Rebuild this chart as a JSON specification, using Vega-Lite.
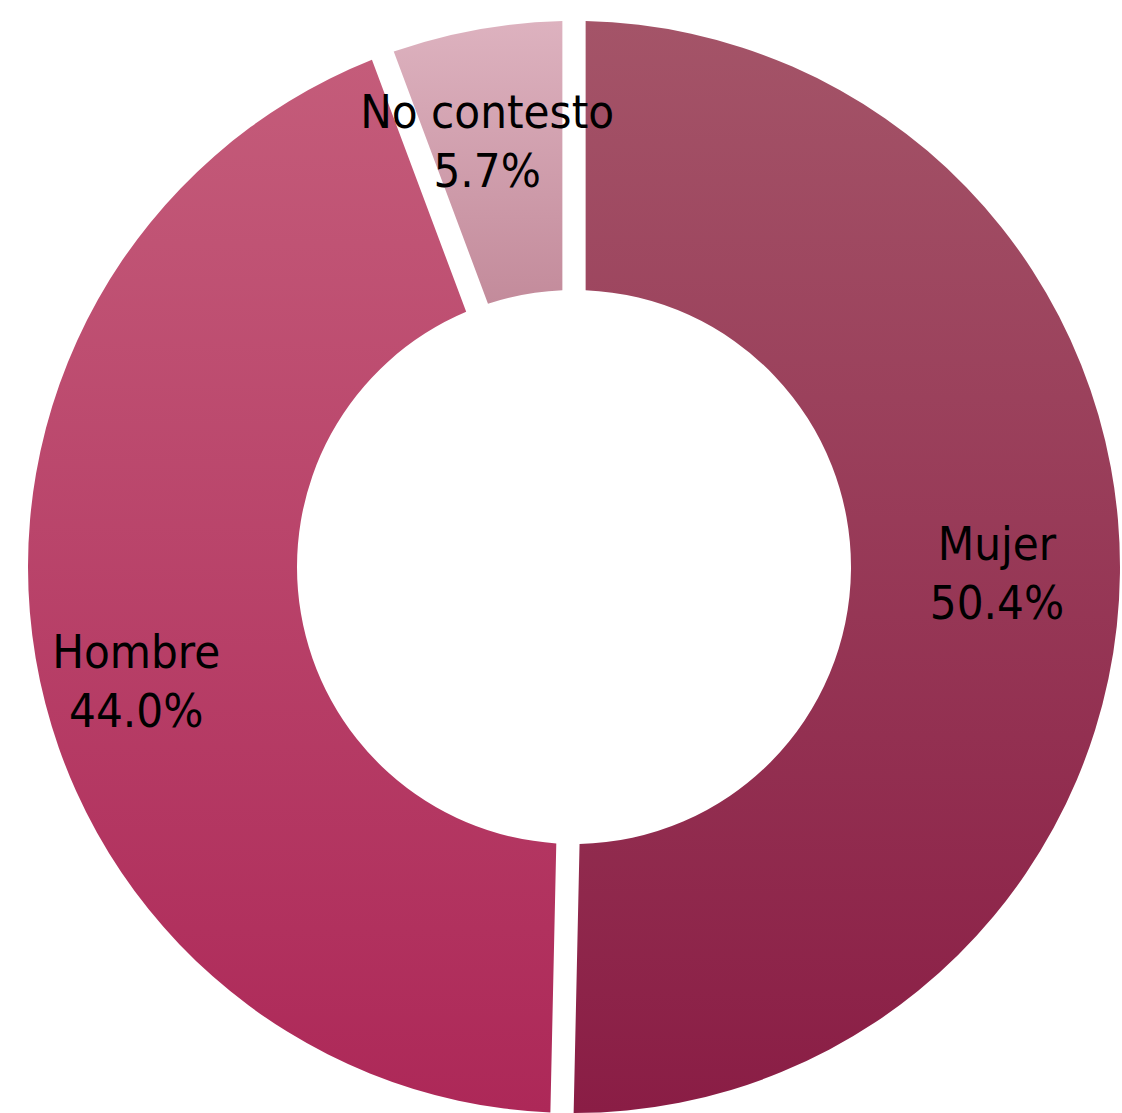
{
  "$schema": "https://vega.github.io/schema/vega-lite/v6.json",
  "width": 1122,
  "height": 1113,
  "autosize": {"type": "fit", "contains": "padding"},
  "padding": {"left": 26, "top": 21, "right": 0, "bottom": 0},
  "background": "white",
  "config": {"view": {"stroke": null}},
  "data": {
    "values": [
      {"cat": "Mujer", "value": 50.4, "ord": 1, "label": "Mujer\n50.4%"},
      {"cat": "Hombre", "value": 44.0, "ord": 2, "label": "Hombre\n44.0%"},
      {"cat": "No contesto", "value": 5.7, "ord": 3, "label": "No contesto\n5.7%"}
    ]
  },
  "transform": [
    {"stack": "value", "groupby": [], "sort": [{"field": "ord", "order": "ascending"}], "as": ["v0", "v1"]}
  ],
  "layer": [
    {
      "transform": [{"filter": "datum.cat === 'Mujer'"}],
      "mark": {
        "type": "arc", "radius": 546, "radius2": 277, "padAngle": 0.038,
        "color": {"gradient": "linear", "x1": 0, "y1": 0, "x2": 0, "y2": 1,
          "stops": [{"offset": 0, "color": "#A45468"}, {"offset": 1, "color": "#8A1D45"}]}
      },
      "encoding": {
        "theta": {"field": "v0", "type": "quantitative", "scale": {"domain": [0, 100.1]}},
        "theta2": {"field": "v1"}
      }
    },
    {
      "transform": [{"filter": "datum.cat === 'Hombre'"}],
      "mark": {
        "type": "arc", "radius": 546, "radius2": 277, "padAngle": 0.038,
        "color": {"gradient": "linear", "x1": 0, "y1": 0, "x2": 0, "y2": 1,
          "stops": [{"offset": 0, "color": "#C45C7A"}, {"offset": 1, "color": "#AD2858"}]}
      },
      "encoding": {
        "theta": {"field": "v0", "type": "quantitative", "scale": {"domain": [0, 100.1]}},
        "theta2": {"field": "v1"}
      }
    },
    {
      "transform": [{"filter": "datum.cat === 'No contesto'"}],
      "mark": {
        "type": "arc", "radius": 546, "radius2": 277, "padAngle": 0.038,
        "color": {"gradient": "linear", "x1": 0, "y1": 0, "x2": 0, "y2": 1,
          "stops": [{"offset": 0, "color": "#DDB2BF"}, {"offset": 1, "color": "#C38B9B"}]}
      },
      "encoding": {
        "theta": {"field": "v0", "type": "quantitative", "scale": {"domain": [0, 100.1]}},
        "theta2": {"field": "v1"}
      }
    },
    {
      "mark": {"type": "text", "radius": 423, "dy": -26, "fontSize": 47, "font": "DejaVu Sans Condensed", "lineBreak": "\n", "lineHeight": 59, "color": "#000000", "align": "center", "baseline": "middle"},
      "encoding": {
        "theta": {"field": "value", "type": "quantitative", "stack": true},
        "order": {"field": "ord", "type": "quantitative"},
        "text": {"condition": {"test": "datum.cat === 'Mujer'", "field": "label"}, "value": ""}
      }
    },
    {
      "mark": {"type": "text", "radius": 440, "dx": -4, "dy": 13, "fontSize": 47, "font": "DejaVu Sans Condensed", "lineBreak": "\n", "lineHeight": 59, "color": "#000000", "align": "center", "baseline": "middle"},
      "encoding": {
        "theta": {"field": "value", "type": "quantitative", "stack": true},
        "order": {"field": "ord", "type": "quantitative"},
        "text": {"condition": {"test": "datum.cat === 'Hombre'", "field": "label"}, "value": ""}
      }
    },
    {
      "mark": {"type": "text", "radius": 432, "dx": -10, "dy": -28, "fontSize": 47, "font": "DejaVu Sans Condensed", "lineBreak": "\n", "lineHeight": 59, "color": "#000000", "align": "center", "baseline": "middle"},
      "encoding": {
        "theta": {"field": "value", "type": "quantitative", "stack": true},
        "order": {"field": "ord", "type": "quantitative"},
        "text": {"condition": {"test": "datum.cat === 'No contesto'", "field": "label"}, "value": ""}
      }
    }
  ]
}
